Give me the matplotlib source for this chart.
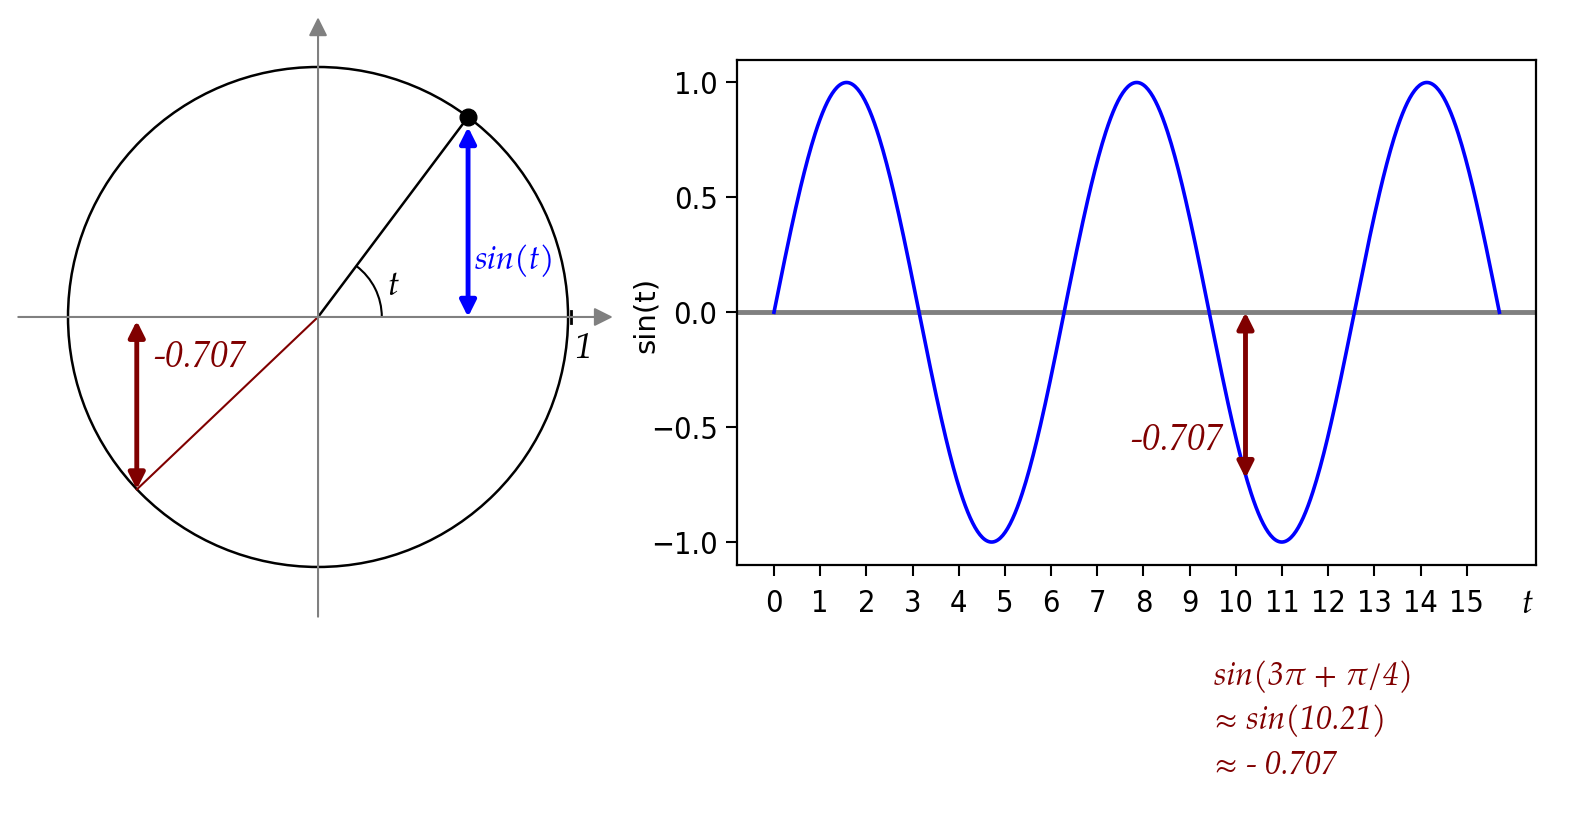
import numpy as np
import matplotlib.pyplot as plt
from matplotlib.patches import Circle, Arc

# values
t_end = 5 * np.pi
t = np.linspace(0, t_end, 600)
sin_t = np.sin(t)

point_x, point_y = 0.6, 0.8          # point on the unit circle
point_angle = 53.1                   # degrees
red_x, red_y = -0.725, -0.69         # end of the dark red radius
t_mark = 10.21                       # 3*pi + pi/4
sin_mark = -0.707
x_ticks = list(range(16))
y_ticks = [-1.0, -0.5, 0.0, 0.5, 1.0]
x_labels = [str(v) for v in x_ticks]
y_labels = ['\u22121.0', '\u22120.5', '0.0', '0.5', '1.0']
note_lines = ["sin(3\u03c0 + \u03c0/4)", "\u2248 sin(10.21)", "\u2248 - 0.707"]

dark_red = '#800000'
serif = dict(family=['TeX Gyre Pagella', 'DejaVu Serif'], style='italic')

fig = plt.figure(figsize=(15.82, 8.21), dpi=100)

# ---- left: unit circle ----
ax1 = fig.add_axes([0, 0.2205, 0.4046, 0.7795])
ax1.set_xlim(-1.272, 1.288)
ax1.set_ylim(-1.292, 1.268)
ax1.axis('off')

ax1.annotate('', xy=(1.19, 0), xytext=(-1.21, 0),
             arrowprops=dict(arrowstyle='-|>', color='gray', lw=1.5, mutation_scale=28))
ax1.annotate('', xy=(0, 1.21), xytext=(0, -1.21),
             arrowprops=dict(arrowstyle='-|>', color='gray', lw=1.5, mutation_scale=28))
ax1.add_patch(Circle((0, 0), 1, fill=False, color='black', lw=1.8))
ax1.plot([1.01, 1.01], [-0.025, 0.025], color='black', lw=2)
ax1.text(1.06, -0.13, '1', fontsize=25, va='center', ha='center', **serif)

ax1.plot([0, point_x], [0, point_y], color='black', lw=1.8)
ax1.plot(point_x, point_y, 'o', color='black', ms=12)
ax1.add_patch(Arc((0, 0), 0.51, 0.51, theta1=0, theta2=point_angle, color='black', lw=1.5))
ax1.text(0.28, 0.12, 't', fontsize=25, va='center', ha='left', **serif)

ax1.annotate('', xy=(point_x, point_y - 0.04), xytext=(point_x, 0.0),
             arrowprops=dict(arrowstyle='<|-|>', color='blue', lw=3.5, mutation_scale=24,
                             shrinkA=0, shrinkB=0))
ax1.text(0.625, 0.225, 'sin(t)', color='blue', fontsize=23.5, va='center', ha='left', **serif)

ax1.plot([0, red_x], [0, red_y], color=dark_red, lw=1.5)
ax1.annotate('', xy=(red_x, red_y), xytext=(red_x, -0.015),
             arrowprops=dict(arrowstyle='<|-|>', color=dark_red, lw=3.5, mutation_scale=24,
                             shrinkA=0, shrinkB=0))
ax1.text(-0.66, -0.165, '-0.707', color=dark_red, fontsize=26, va='center', ha='left', **serif)

# ---- right: sine curve ----
ax2 = fig.add_axes([0.4659, 0.3118, 0.505, 0.6157])
ax2.axhline(0, color='gray', lw=3.5, zorder=1)
ax2.plot(t, sin_t, color='blue', lw=2.6, zorder=2)
ax2.set_xlim(-0.8, 16.5)
ax2.set_ylim(-1.1, 1.1)
ax2.set_xticks(x_ticks, x_labels, fontsize=22, family='DejaVu Sans', fontstretch='condensed')
ax2.set_yticks(y_ticks, y_labels, fontsize=22, family='DejaVu Sans', fontstretch='condensed')
for s in ax2.spines.values():
    s.set_linewidth(1.6)
ax2.tick_params(axis='x', length=8, width=1.5, pad=9)
ax2.tick_params(axis='y', length=8, width=1.5, pad=6)

ax2.annotate('', xy=(t_mark, sin_mark - 0.015), xytext=(t_mark, 0.0),
             arrowprops=dict(arrowstyle='<|-|>', color=dark_red, lw=3.5, mutation_scale=24,
                             shrinkA=0, shrinkB=0))
ax2.text(9.74, -0.558, '-0.707', color=dark_red, fontsize=26, va='center', ha='right', **serif)

fig.text(646 / 1582, 1 - 315 / 821, 'sin(t)', rotation=90, fontsize=21, va='center', ha='center')
fig.text(1527 / 1582, 1 - 605 / 821, 't', fontsize=25, va='center', ha='center', **serif)

for i, line in enumerate(note_lines):
    fig.text(1214 / 1582, 1 - (677 + 44.5 * i) / 821, line, color=dark_red,
             fontsize=23, va='center', ha='left', **serif)

fig.savefig('out.png', dpi=100)
